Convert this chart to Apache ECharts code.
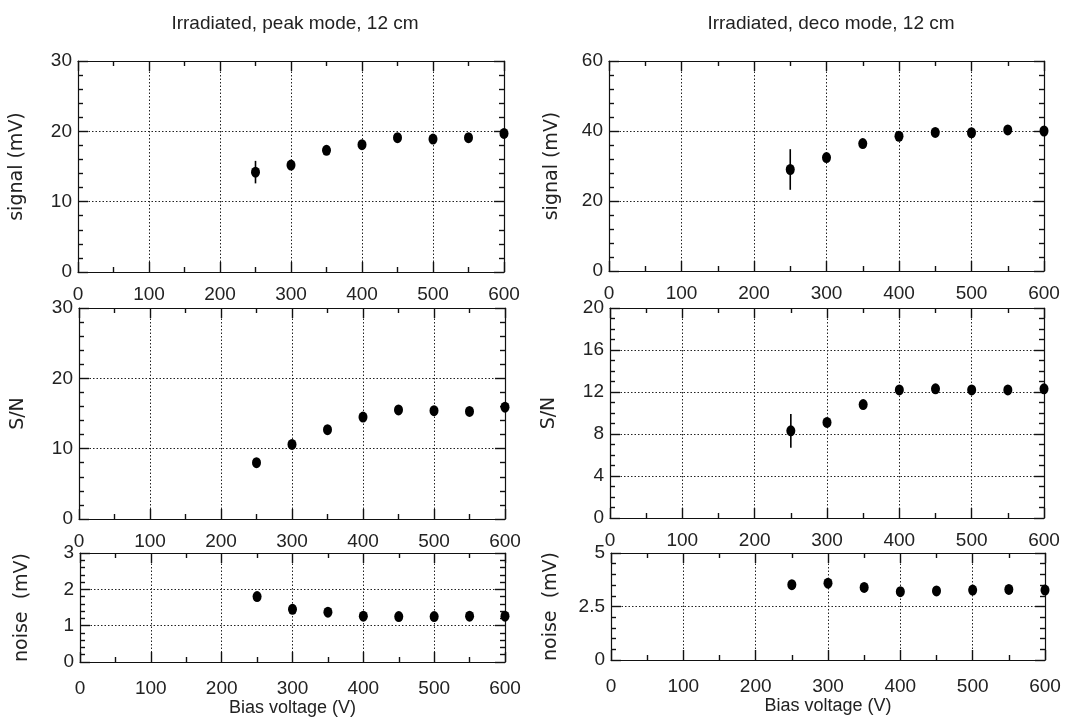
<!DOCTYPE html>
<html>
<head>
<meta charset="utf-8">
<script src="https://cdn.jsdelivr.net/npm/echarts@6/dist/echarts.min.js"></script>
<style>
html,body{margin:0;padding:0;background:#fff;}
#chart{width:1081px;height:718px;}
</style>
</head>
<body>
<div id="chart"></div>
<script>
// ---- data ----
const voltages = [250, 300, 350, 400, 450, 500, 550, 600];

const peakSignal    = [14.2, 15.2, 17.3, 18.1, 19.1, 18.9, 19.1, 19.7];
const peakSignalErr = [1.6, 0.4, 0.4, 0.4, 0.4, 0.4, 0.4, 0.4];
const peakSN        = [8.0, 10.6, 12.7, 14.5, 15.5, 15.4, 15.3, 15.9];
const peakSNErr     = [0.3, 0.3, 0.3, 0.3, 0.3, 0.3, 0.3, 0.3];
const peakNoise     = [1.80, 1.45, 1.37, 1.26, 1.25, 1.25, 1.26, 1.26];
const peakNoiseErr  = [0.03, 0.03, 0.03, 0.03, 0.03, 0.03, 0.03, 0.03];

const decoSignal    = [29.0, 32.4, 36.4, 38.5, 39.6, 39.5, 40.3, 40.0];
const decoSignalErr = [5.8, 0.8, 0.8, 0.8, 0.8, 0.8, 0.8, 0.8];
const decoSN        = [8.3, 9.1, 10.8, 12.2, 12.3, 12.2, 12.2, 12.3];
const decoSNErr     = [1.6, 0.2, 0.2, 0.2, 0.2, 0.2, 0.2, 0.2];
const decoNoise     = [3.52, 3.59, 3.39, 3.19, 3.23, 3.27, 3.30, 3.27];
const decoNoiseErr  = [0.05, 0.05, 0.05, 0.05, 0.05, 0.05, 0.05, 0.05];

const titles = ['Irradiated, peak mode, 12 cm', 'Irradiated, deco mode, 12 cm'];
const yNames = ['signal (mV)', 'signal (mV)', 'S/N', 'S/N', 'noise  (mV)', 'noise  (mV)'];
const xName = 'Bias voltage (V)';
const xRange = [0, 600], xStep = 100, xMinorSplit = 2;
const yMaxes = [30, 60, 30, 20, 3, 5];
const ySteps = [10, 20, 10, 4, 1, 2.5];
const yMinorSplits = [5, 5, 5, 4, 5, 5];

const panelValues = [peakSignal, decoSignal, peakSN, decoSN, peakNoise, decoNoise];
const panelErrors = [peakSignalErr, decoSignalErr, peakSNErr, decoSNErr, peakNoiseErr, decoNoiseErr];

// ---- layout ----
const grids = [
  {left: 78,  top: 61,  width: 426, height: 211},
  {left: 609, top: 61,  width: 435, height: 210},
  {left: 79,  top: 308, width: 426, height: 211},
  {left: 610, top: 308, width: 434, height: 210},
  {left: 80,  top: 553, width: 425, height: 109},
  {left: 611, top: 553, width: 434, height: 107}
];
const yNameGaps = [51, 47, 51, 51, 48, 50];
const xLabelMargins = [13, 13, 13, 13, 17, 17];

const FONT = 'Liberation Sans';
const INK = '#111';
const textColor = '#222';

const xAxes = [], yAxes = [], series = [];
grids.forEach((g, i) => {
  const isBottom = i >= 4;
  xAxes.push({
    gridIndex: i, type: 'value', position: 'bottom',
    min: xRange[0], max: xRange[1], interval: xStep,
    axisLine: {show: true, onZero: false, lineStyle: {color: INK, width: 1.2}},
    axisTick: {show: true, inside: true, length: 10, lineStyle: {color: INK, width: 1.4}},
    minorTick: {show: true, splitNumber: xMinorSplit, length: 5, lineStyle: {color: INK, width: 1.4}},
    axisLabel: {show: true, margin: xLabelMargins[i], fontFamily: FONT, fontSize: 19, color: textColor, showMinLabel: true, showMaxLabel: true},
    splitLine: {show: true, lineStyle: {color: '#222', type: [1.5, 2], width: 1}},
    name: isBottom ? xName : '',
    nameLocation: 'middle', nameGap: 35,
    nameTextStyle: {fontFamily: FONT, fontSize: 18, color: textColor}
  });
  xAxes.push({
    gridIndex: i, type: 'value', position: 'top',
    min: xRange[0], max: xRange[1], interval: xStep,
    axisLine: {show: true, onZero: false, lineStyle: {color: INK, width: 1.2}},
    axisTick: {show: true, inside: true, length: 10, lineStyle: {color: INK, width: 1.4}},
    minorTick: {show: true, splitNumber: xMinorSplit, length: 5, lineStyle: {color: INK, width: 1.4}},
    axisLabel: {show: false},
    splitLine: {show: false}
  });
  yAxes.push({
    gridIndex: i, type: 'value', position: 'left',
    min: 0, max: yMaxes[i], interval: ySteps[i],
    axisLine: {show: true, onZero: false, lineStyle: {color: INK, width: 1.2}},
    axisTick: {show: true, inside: true, length: 10, lineStyle: {color: INK, width: 1.4}},
    minorTick: {show: true, splitNumber: yMinorSplits[i], length: 5, lineStyle: {color: INK, width: 1.4}},
    axisLabel: {show: true, margin: 6, fontFamily: FONT, fontSize: 19, color: textColor, showMinLabel: true, showMaxLabel: true},
    splitLine: {show: true, lineStyle: {color: '#222', type: [1.5, 2], width: 1}},
    name: yNames[i], nameLocation: 'middle', nameRotate: 90, nameGap: yNameGaps[i],
    nameTextStyle: {fontFamily: 'DejaVu Sans', fontSize: 19, color: textColor}
  });
  yAxes.push({
    gridIndex: i, type: 'value', position: 'right',
    min: 0, max: yMaxes[i], interval: ySteps[i],
    axisLine: {show: true, onZero: false, lineStyle: {color: INK, width: 1.2}},
    axisTick: {show: true, inside: true, length: 10, lineStyle: {color: INK, width: 1.4}},
    minorTick: {show: true, splitNumber: yMinorSplits[i], length: 5, lineStyle: {color: INK, width: 1.4}},
    axisLabel: {show: false},
    splitLine: {show: false}
  });

  const vals = panelValues[i], errs = panelErrors[i];
  const pts = voltages.map((v, k) => [v, vals[k], errs[k]]);
  series.push({
    type: 'custom', xAxisIndex: 2 * i, yAxisIndex: 2 * i, clip: false, silent: true,
    data: pts,
    renderItem: function (params, api) {
      const x = api.value(0), y = api.value(1), e = api.value(2);
      const p1 = api.coord([x, y + e]);
      const p2 = api.coord([x, y - e]);
      return {type: 'line', shape: {x1: p1[0], y1: p1[1], x2: p2[0], y2: p2[1]},
              style: {stroke: '#000', lineWidth: 1.6}};
    },
    z: 3
  });
  series.push({
    type: 'scatter', xAxisIndex: 2 * i, yAxisIndex: 2 * i, clip: false, silent: true,
    data: pts.map(p => [p[0], p[1]]),
    symbol: 'circle', symbolSize: [9, 11],
    itemStyle: {color: '#000', opacity: 1},
    z: 4
  });
});

const chart = echarts.init(document.getElementById('chart'), null, {renderer: 'canvas'});
chart.setOption({
  backgroundColor: '#fff',
  animation: false,
  title: [
    {text: titles[0], left: 290, top: 9, textAlign: 'center',
     textStyle: {fontFamily: FONT, fontSize: 19, fontWeight: 'normal', color: textColor}},
    {text: titles[1], left: 826, top: 9, textAlign: 'center',
     textStyle: {fontFamily: FONT, fontSize: 19, fontWeight: 'normal', color: textColor}}
  ],
  grid: grids,
  xAxis: xAxes,
  yAxis: yAxes,
  series: series
});
</script>
</body>
</html>
